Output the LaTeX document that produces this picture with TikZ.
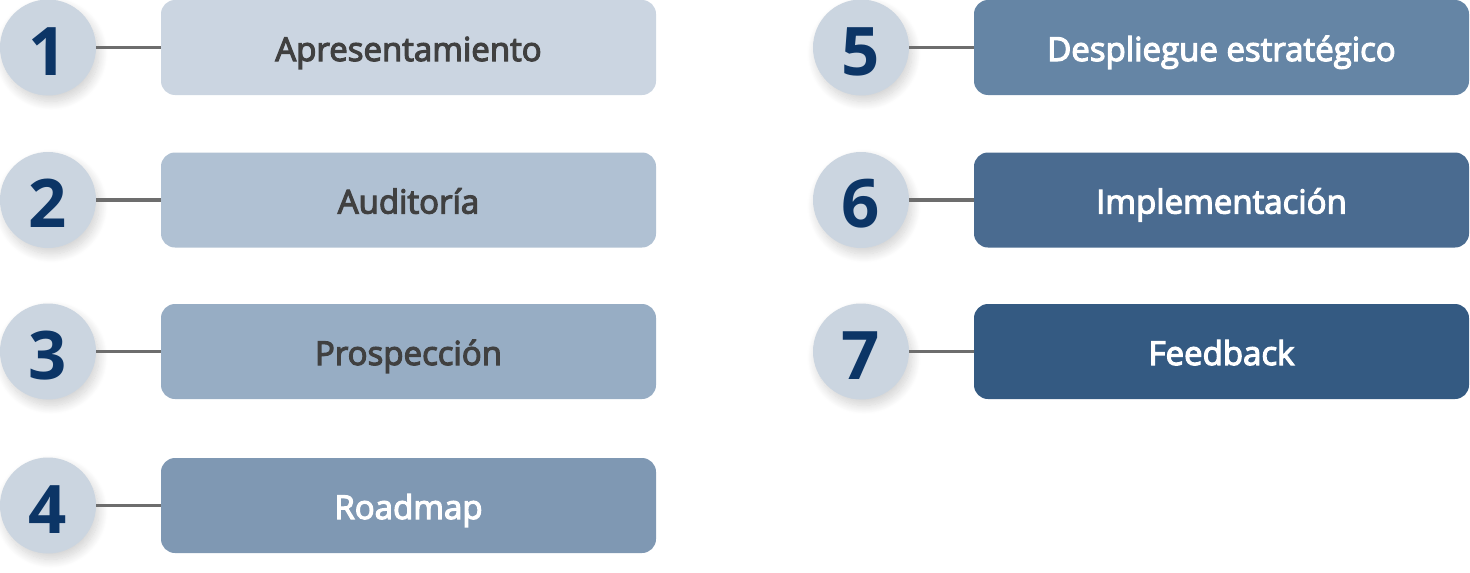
\documentclass[tikz,border=0pt]{standalone}
\usepackage{fontspec}
\setmainfont{Open Sans}
\newfontfamily\boxfont{Open Sans}[FakeBold=3.5]
\usetikzlibrary{shadows.blur}
\definecolor{circfill}{HTML}{CBD5E0}
\definecolor{numcol}{HTML}{0C3566}
\definecolor{linecol}{HTML}{6D6D6D}
\definecolor{darktext}{HTML}{404040}
\definecolor{bA}{HTML}{CBD5E1}
\definecolor{bB}{HTML}{B0C1D3}
\definecolor{bC}{HTML}{97ADC4}
\definecolor{bD}{HTML}{7F98B3}
\definecolor{bE}{HTML}{6585A5}
\definecolor{bF}{HTML}{4A6B90}
\definecolor{bG}{HTML}{345A82}
\tikzset{
  x=1pt,y=1pt,
  numcirc/.style={circle, fill=circfill, minimum size=96pt, inner sep=0pt,
    text height=55pt, text depth=0pt,
    text=numcol, font=\fontsize{67}{67}\selectfont\bfseries,
    blur shadow={shadow xshift=3pt, shadow yshift=-6pt, shadow blur radius=9pt, shadow blur steps=14, shadow opacity=18}},
  stepbox/.style={rectangle, rounded corners=14pt, minimum width=495pt, minimum height=95pt,
    inner sep=0pt, text height=27pt, text depth=0pt,
    font=\boxfont\fontsize{33}{33}\selectfont},
  conn/.style={draw=linecol, line width=3.5pt}
}
\begin{document}
\begin{tikzpicture}
\useasboundingbox (0,0) rectangle (1470,-573);
% left column
\foreach \n/\y/\c/\tc/\t in {1/-47.5/bA/darktext/Apresentamiento, 2/-200/bB/darktext/Auditoría, 3/-351.5/bC/darktext/Prospección, 4/-505.5/bD/white/Roadmap}{
  \node[numcirc] (c\n) at (48,\y) {\n};
  \node[stepbox, fill=\c, text=\tc] (b\n) at (408.5,\y) {\t};
  \draw[conn] (c\n.east) -- (b\n.west);
}
% right column
\foreach \n/\y/\c/\t in {5/-47.5/bE/Despliegue estratégico, 6/-200/bF/Implementación, 7/-351.5/bG/Feedback}{
  \node[numcirc] (c\n) at (861,\y) {\n};
  \node[stepbox, fill=\c, text=white] (b\n) at (1221.5,\y) {\t};
  \draw[conn] (c\n.east) -- (b\n.west);
}
\end{tikzpicture}
\end{document}
